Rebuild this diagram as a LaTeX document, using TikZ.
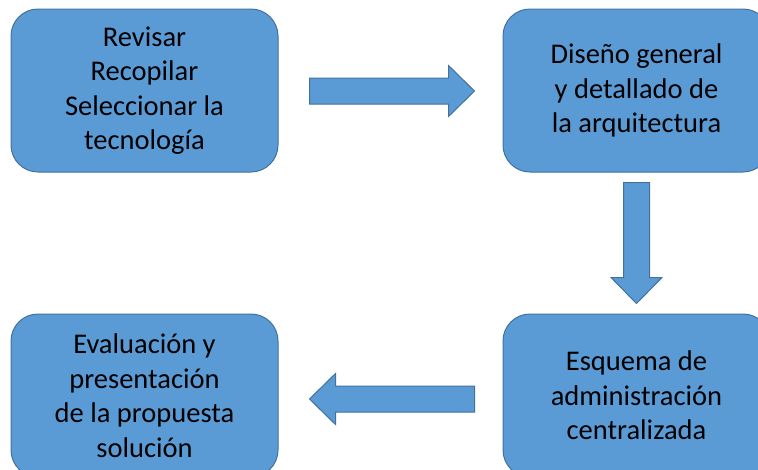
\documentclass[tikz,border=0pt]{standalone}
\usepackage{fontspec}
\setmainfont{Carlito}
\usepackage{tikz}
\usetikzlibrary{calc,positioning}
\definecolor{boxblue}{HTML}{5B9BD5}
\definecolor{boxline}{HTML}{41719C}

\begin{document}
\begin{tikzpicture}[x=1pt,y=-1pt,node distance=224pt]
  \tikzstyle{block}=[draw=boxline,fill=boxblue,line width=1pt,rounded corners=27pt,
    minimum width=267pt,minimum height=163pt,align=center,inner sep=0pt,
    font=\fontsize{28.5}{34.5}\selectfont]
  \tikzstyle{fat arrow}=[draw=boxline,fill=boxblue,line width=1pt,line join=miter,
    to path={let \p1=(\tikztostart), \p2=(\tikztotarget),
      \n1={atan2(\y2-\y1,\x2-\x1)}, \n2={veclen(\x2-\x1,\y2-\y1)-26pt} in
      ($(\p1)+(\n1+90:13pt)$) -- ++(\n1:\n2) -- ++(\n1+90:12.5pt) -- (\p2)
      -- ($(\p2)+(\n1+180:26pt)+(\n1-90:25.5pt)$) -- ++(\n1+90:12.5pt)
      -- ($(\p1)+(\n1-90:13pt)$) -- cycle}]

  \clip[use as bounding box] (0,0) rectangle (758,469);

  \node[block] (rev) at (144.5,90.5) {Revisar\\Recopilar\\Seleccionar la\\tecnología};
  \node[block] (dis) [right=of rev]  {Diseño general\\y detallado de\\la arquitectura};
  \node[block] (esq) [below=141pt of dis] {Esquema de\\administración\\centralizada};
  \node[block] (eva) [left=of esq]   {Evaluación y\\presentación\\de la propuesta\\solución};

  \coordinate (r1) at ($(rev.east)+(31,0.5)$);
  \coordinate (r2) at ($(dis.west)+(-28,0.5)$);
  \coordinate (d1) at ($(dis.south)+(0,10)$);
  \coordinate (d2) at ($(esq.north)+(0,-10)$);
  \coordinate (l1) at ($(esq.west)+(-28,3.5)$);
  \coordinate (l2) at ($(eva.east)+(31,3.5)$);

  \path[fat arrow]
  (r1) to (r2)
  (d1) to (d2)
  (l1) to (l2);
\end{tikzpicture}
\end{document}
